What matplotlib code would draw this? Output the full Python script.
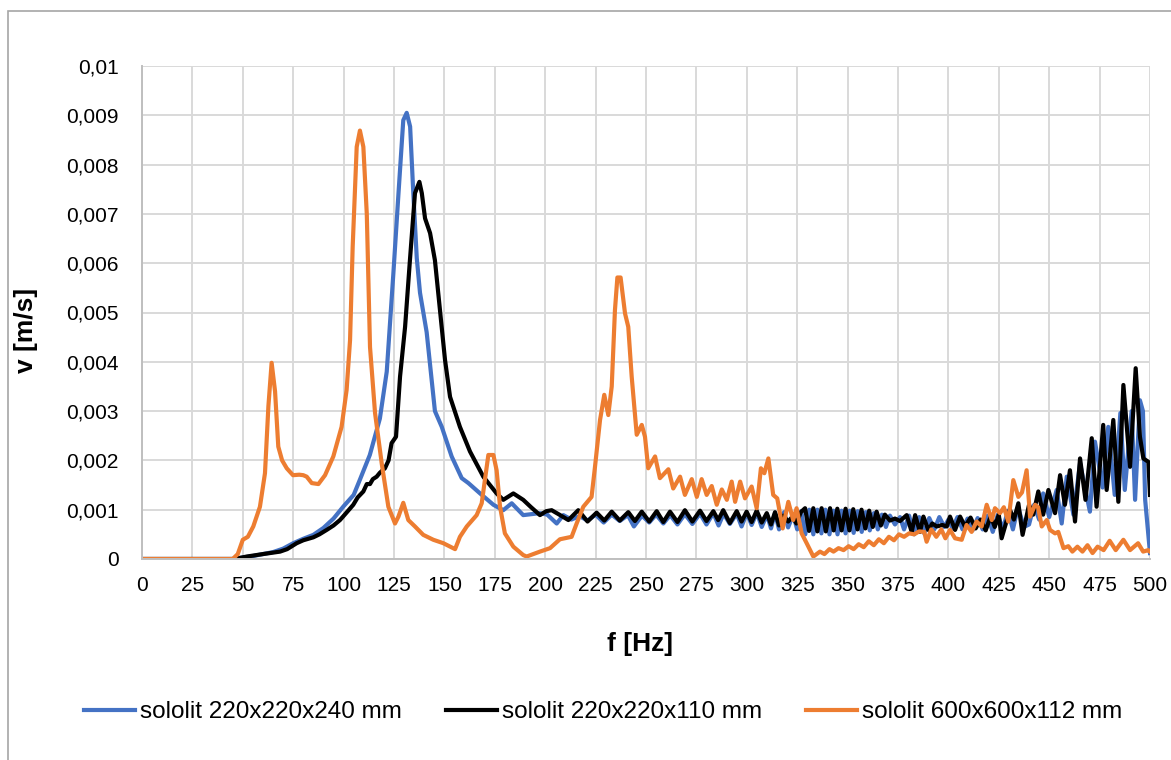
import matplotlib
matplotlib.use("Agg")
import matplotlib.pyplot as plt
from matplotlib.patches import Rectangle

plt.rcParams['font.family'] = ['Liberation Sans', 'DejaVu Sans']

# sololit 220x220x240 mm (blue)
f_blue = [0, 45, 50, 55, 60, 65, 70, 75, 80, 85, 90, 95, 100, 105, 108, 113, 118, 121.4, 124.7,
          127.2, 129.6, 131.3, 133, 134.6, 136.3, 137.9, 141.2, 145.3, 148.7, 153.6, 158.6, 161.9,
          167.7, 174.3, 179.2, 183.4, 189.1, 197.4, 201, 205.7, 209,
          213, 217, 221, 225, 229, 233, 237, 241, 244, 248, 251.6, 255, 258.6, 262, 265.6, 269.3,
          273, 276.8, 280, 283.4, 286, 288.5, 291.6, 295, 297.4, 300, 302.4, 305, 307.4, 310, 312,
          314, 316, 318.5, 320.5, 323, 325, 327, 329, 331, 333, 335, 337, 339, 341, 343, 345, 347,
          349, 351, 353, 355, 357, 359, 361, 363, 365, 367, 369, 371, 373.5, 376, 378, 380.5, 383,
          385.5, 388, 390.5, 393, 395.5, 398, 400, 402, 404.5, 407, 409.5, 412, 414.5, 417, 419.5,
          422, 424.5, 427, 429.5, 432, 434.5, 437.5, 440, 442.5, 445, 447, 450, 453.7, 456.2, 458.7,
          462, 465.3, 470.2, 472.7, 476.5, 479.3, 482.5, 485.3, 487.5, 490.9, 492.6, 495, 496.5,
          497.6, 500]
v_blue = [0, 0, 0.00003, 0.00006, 0.0001, 0.00014, 0.00021, 0.00032, 0.00041, 0.00049, 0.00063,
          0.00082, 0.00107, 0.0013, 0.0016, 0.00211, 0.00285, 0.0038, 0.0058, 0.0074, 0.0089,
          0.00905, 0.00877, 0.0074, 0.0061, 0.0054, 0.0046, 0.0030, 0.00268, 0.00208, 0.00164,
          0.00154, 0.00133, 0.0011, 0.00099, 0.00113, 0.00089, 0.00093, 0.0009, 0.00072, 0.00089,
          0.0008, 0.00087, 0.00078, 0.0009, 0.00074, 0.0009, 0.00077, 0.00089, 0.00066, 0.00088,
          0.00074, 0.0009, 0.00072, 0.00089, 0.0007, 0.00091, 0.00071, 0.00092, 0.0007, 0.00093,
          0.00068, 0.00092, 0.00071, 0.00092, 0.00066, 0.00093, 0.00069, 0.00094, 0.00065, 0.0009,
          0.00062, 0.00093, 0.0006, 0.00095, 0.00064, 0.0009, 0.0006, 0.00097, 0.0005, 0.001,
          0.0005, 0.001, 0.00052, 0.001, 0.0005, 0.00098, 0.0005, 0.00098, 0.00052, 0.00098,
          0.00053, 0.00097, 0.00055, 0.00095, 0.00058, 0.00093, 0.0006, 0.0009, 0.00065, 0.00088,
          0.0007, 0.00085, 0.0006, 0.00088, 0.0005, 0.00085, 0.00052, 0.00083, 0.0006, 0.00085,
          0.00065, 0.0008, 0.00062, 0.00085, 0.0006, 0.00082, 0.00058, 0.00083, 0.0006, 0.00088,
          0.00055, 0.0009, 0.0006, 0.00098, 0.0006, 0.00105, 0.00065, 0.0007, 0.0011, 0.0008,
          0.00133, 0.00085, 0.0014, 0.00072, 0.00167, 0.0009, 0.00194, 0.00096, 0.00238, 0.00145,
          0.00268, 0.0013, 0.00296, 0.0014, 0.003, 0.0012, 0.00322, 0.003, 0.0012, 0.00012]

# sololit 220x220x110 mm (black)
f_black = [0, 45, 47, 52, 60, 68.5, 72, 76.7, 80, 85, 88, 91.6, 95, 98.2, 101, 104.8, 107, 109.8,
           111.5, 113.1, 114.5, 116.4, 118, 120.5, 122.3, 123.8, 126, 128, 130.5, 132.9, 135.4,
           137.6, 138.8, 140.4, 142.9, 145.3, 147.8, 150.3, 152.8, 157.7, 162.7, 169.3, 175.9,
           179.2, 184.2, 189.1, 193, 197.4, 200.5, 203.2, 207, 211.5,
           216.4, 221, 225.5, 229.3, 233, 237, 241.2, 244.5, 247.9, 251.6, 255.3, 258.6, 261.9,
           265.6, 269.3, 273, 276.8, 280, 283.4, 285.8, 288.3, 291.6, 295, 297.4, 299.9, 302.4,
           304.9, 307.4, 309.9, 312, 314, 316, 318.1, 320.5, 322.7, 324.6, 326.8,
           328.9, 330.9, 333, 335, 337.1, 339.2, 341.3, 343.1, 344.9, 347, 349, 350.9, 352.8,
           354.9, 356.9, 358.8, 360.7, 362.5, 364.4, 366.5, 368.5, 371, 373.5, 376, 379.3, 381.8,
           383.5, 385.9, 387.6, 390, 392, 394.2, 397, 399.2, 400.8, 403.3, 405.8, 408.2, 411,
           413.5, 416, 418.5, 421, 423, 425, 426.4, 430.5, 432.5, 434.7, 436.8, 440, 442.1, 444.6,
           447, 449.6, 452.9, 455.4, 457.8, 460.3, 462.8, 465.3, 468, 471.1, 473.5, 476.8, 478.5,
           481.8, 484.3, 486.8, 490.1, 492.9, 495, 496.7, 499.2, 500]
v_black = [0, 0, 0.00001, 0.00005, 0.0001, 0.00015, 0.0002, 0.00032, 0.00038, 0.00044, 0.0005,
           0.00059, 0.00068, 0.00079, 0.00092, 0.0011, 0.00125, 0.00137, 0.00152, 0.00152,
           0.00162, 0.00167, 0.00175, 0.00184, 0.002, 0.00235, 0.00248, 0.0037, 0.00471, 0.00606,
           0.00742, 0.00765, 0.00742, 0.00691, 0.00661, 0.00606, 0.00505, 0.00404, 0.00329,
           0.00268, 0.00218, 0.00167, 0.00133, 0.0012, 0.00133, 0.0012, 0.00105, 0.00089,
           0.00097, 0.00099, 0.0009, 0.00079,
           0.00099, 0.00076, 0.00094, 0.00078, 0.00096, 0.00078, 0.00095, 0.00077, 0.00096,
           0.00076, 0.00097, 0.00075, 0.00096, 0.00075, 0.00099, 0.00076, 0.00098, 0.00077,
           0.00097, 0.00079, 0.00099, 0.00073, 0.00097, 0.00076, 0.00096, 0.00075, 0.00098,
           0.00074, 0.00093, 0.0007, 0.00095, 0.00068, 0.00088, 0.00076, 0.00086, 0.00072,
           0.00095,
           0.00103, 0.00057, 0.00103, 0.00056, 0.00103, 0.00056, 0.00103, 0.00058, 0.00102,
           0.00058, 0.00102, 0.00058, 0.00101, 0.0006, 0.001, 0.00062, 0.00098, 0.00065, 0.00096,
           0.00068, 0.0009, 0.00078, 0.00082, 0.00077, 0.00089, 0.00055, 0.00089, 0.00055,
           0.00086, 0.00059, 0.00072, 0.00066, 0.00069, 0.00066, 0.00086, 0.00059, 0.00086,
           0.00066, 0.00084, 0.00062, 0.0008, 0.00058, 0.00087, 0.00065, 0.0009, 0.00042, 0.001,
           0.0008, 0.00113, 0.00049, 0.0011, 0.0009, 0.00137, 0.0009, 0.0014, 0.00093, 0.0017,
           0.0011, 0.0018, 0.00076, 0.00204, 0.0012, 0.00245, 0.00106, 0.00272, 0.0014, 0.00282,
           0.00116, 0.00353, 0.00187, 0.00387, 0.00248, 0.00204, 0.00197, 0.0013]

# sololit 600x600x112 mm (orange)
f_orange = [0, 45, 47.5, 50, 52.5, 55.2, 58.5, 61, 62.7, 64.3, 66, 67.6, 69.5, 71.8, 74.9, 78, 80,
            81.7, 84.2, 87.5, 90.8, 94.9, 99, 101.5, 103.2, 104.5, 106.5, 108.1, 109.8, 111.5,
            113.1, 115.6, 118.9, 122.2, 125.5, 127.2, 129.6, 132.1, 135.4, 139.5, 144.5, 149.5,
            155.3, 157.7, 161.1, 166, 168.5, 170.1, 171.8, 174.3, 175.9, 177.6, 180, 184.2, 189.1,
            190.8, 197.4, 202.4, 207.3, 213.1, 215.6, 218.9, 223, 224.7, 227.2, 229.3, 231.3, 233,
            234.6, 235.8, 237.4, 239.6, 241.2, 242.9, 245.4, 247.9, 249.5, 251.1, 254.5, 256.9,
            261.1, 263.5, 266.9, 269.3, 272.7, 275.2, 277.6, 280.1, 282.6, 285.1, 287.6, 290.1,
            292.5, 294.2, 296.7, 299.1, 302.4, 304.9, 307, 308.7, 310.7, 313.1, 315.1, 317.8,
            320.6, 323, 324.7, 327.2, 329.7, 333, 336.3, 338.5, 341, 343, 345.5, 348, 350.5, 353,
            355.5, 358, 360.5, 363, 365.5, 368, 370.5, 373, 375.5, 378, 380.5, 383, 385.5, 388,
            389.2, 391.5, 394, 396.5, 398.5, 400.8, 403.3, 406.6, 409, 411.5, 414, 416.5, 419,
            421.5, 423.1, 425.6, 427.5, 429.7, 432.2, 434.7, 436.5, 438.8, 440.5, 443, 444.5,
            446.3, 448.8, 450.4, 452.9, 454.5, 457.1, 459.5, 461.5, 464, 466.5, 469, 471.5, 474,
            477, 480, 483, 486.8, 490.1, 494.1, 496.6, 499.1, 500]
v_orange = [0, 0, 0.0001, 0.00039, 0.00045, 0.00066, 0.00106, 0.00174, 0.0031, 0.00398, 0.0034,
            0.00228, 0.002, 0.00184, 0.0017, 0.00171, 0.0017, 0.00167, 0.00154, 0.00152, 0.0017,
            0.00208, 0.00268, 0.00343, 0.00444, 0.00633, 0.00836, 0.00869, 0.00836, 0.007,
            0.0043, 0.00296, 0.00194, 0.00106, 0.00072, 0.00086, 0.00114, 0.00079, 0.00066,
            0.00049, 0.00039, 0.00032, 0.0002, 0.00045, 0.00066, 0.00089, 0.00113, 0.0016,
            0.00211, 0.00211, 0.0018, 0.00106, 0.00052, 0.00025, 0.00008, 0.00005, 0.00015,
            0.00022, 0.0004, 0.00045, 0.00072, 0.00106, 0.00126, 0.00187, 0.00282, 0.00333,
            0.00292, 0.0035, 0.00505, 0.00571, 0.00571, 0.00498, 0.00471, 0.0037, 0.00252,
            0.00272, 0.00248, 0.00184, 0.00208, 0.00164, 0.00182, 0.00143, 0.00167, 0.0013,
            0.00162, 0.00126, 0.00162, 0.0013, 0.00148, 0.0011, 0.00141, 0.0012, 0.00157, 0.00116,
            0.00157, 0.00123, 0.00147, 0.00103, 0.00184, 0.00174, 0.00204, 0.0013, 0.00123,
            0.00062, 0.00116, 0.00079, 0.00103, 0.00052, 0.00032, 0.00005, 0.00015, 0.0001,
            0.0002, 0.00015, 0.00022, 0.00018, 0.00026, 0.0002, 0.0003, 0.00024, 0.00036, 0.00028,
            0.0004, 0.00032, 0.00045, 0.00038, 0.0005, 0.00045, 0.00052, 0.0005, 0.00056, 0.00055,
            0.00035, 0.0006, 0.00045, 0.0006, 0.00042, 0.00059, 0.00042, 0.00039, 0.00069,
            0.00055, 0.00076, 0.00066, 0.0011, 0.00079, 0.00103, 0.00093, 0.00105, 0.00076,
            0.0016, 0.00126, 0.00135, 0.0018, 0.00086, 0.0011, 0.00105, 0.00066, 0.00079, 0.00059,
            0.00052, 0.00055, 0.00022, 0.00026, 0.00015, 0.00025, 0.00015, 0.00028, 0.00012,
            0.00025, 0.00018, 0.00037, 0.00018, 0.00039, 0.00018, 0.00032, 0.00015, 0.00018,
            0.00015]

labels = ['sololit 220x220x240 mm', 'sololit 220x220x110 mm', 'sololit 600x600x112 mm']
colors = ['#4472c4', '#000000', '#ed7d31']
yticks = [i / 1000 for i in range(11)]
ytick_labels = ['0'] + ['0,00%d' % i for i in range(1, 10)] + ['0,01']
xticks = list(range(0, 501, 25))

fig = plt.figure(figsize=(11.71, 7.6), dpi=100)
fig.patches.append(Rectangle((8 / 1171, -0.1), 1.2, 1.1 - 11 / 760, transform=fig.transFigure,
                             fill=False, edgecolor='#a6a6a6', lw=1.2))
ax = fig.add_axes([142 / 1171, 1 - 559 / 760, 1008 / 1171, 493 / 760])

ax.plot(f_blue, v_blue, color=colors[0], lw=3, label=labels[0], solid_joinstyle='round')
ax.plot(f_black, v_black, color=colors[1], lw=3, label=labels[1], solid_joinstyle='round')
ax.plot(f_orange, v_orange, color=colors[2], lw=3, label=labels[2], solid_joinstyle='round')

ax.set_xlim(0, 500)
ax.set_ylim(0, 0.01)
ax.set_xticks(xticks)
ax.set_yticks(yticks)
ax.set_yticklabels(ytick_labels)
ax.tick_params(length=0, labelsize=15)
ax.tick_params(axis='x', pad=12)
ax.tick_params(axis='y', pad=17)
ax.grid(True, color='#d9d9d9', lw=1.4)
ax.set_axisbelow(True)
for s in ['top', 'right']:
    ax.spines[s].set_visible(False)
for s in ['left', 'bottom']:
    ax.spines[s].set_color('#bfbfbf')
    ax.spines[s].set_linewidth(1.4)

ax.set_xlabel('f [Hz]', fontsize=19, fontweight='bold')
ax.set_ylabel('v [m/s]', fontsize=19, fontweight='bold')
ax.xaxis.set_label_coords(0.494, -0.148)
ax.yaxis.set_label_coords(-0.103, 0.464)

fig.legend(loc='center', bbox_to_anchor=(0.515, 1 - 712 / 760), ncol=3, frameon=False,
           fontsize=17.5, handlelength=2.1, handletextpad=0.2, columnspacing=1.8)

fig.savefig('out.png', dpi=100)
